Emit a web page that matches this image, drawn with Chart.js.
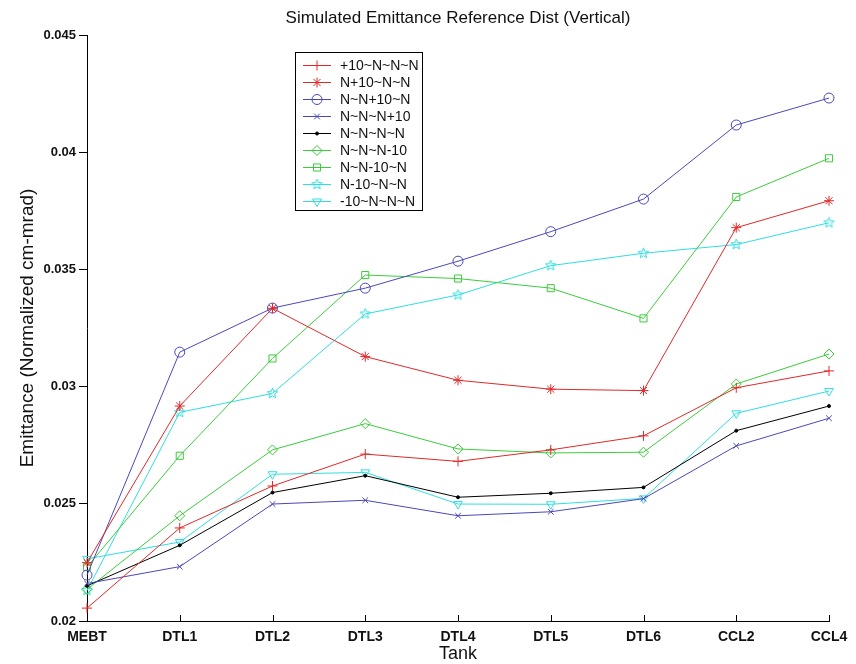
<!DOCTYPE html>
<html>
<head>
<meta charset="utf-8">
<title>Simulated Emittance Reference Dist (Vertical)</title>
<script src="https://cdn.jsdelivr.net/npm/chart.js@4.4.1/dist/chart.umd.min.js"></script>
<style>
    html, body { margin: 0; padding: 0; background: #fff; }
    #emitChart { display: block; }
</style>
</head>
<body>
<canvas id="emitChart" width="856" height="664"></canvas>
<script>
// Tanks along the linac
const tanks = ['MEBT', 'DTL1', 'DTL2', 'DTL3', 'DTL4', 'DTL5', 'DTL6', 'CCL2', 'CCL4'];

// Vertical emittance per error case (normalized cm-mrad)
const plus10NNN   = [0.02055, 0.02397, 0.02576, 0.02712, 0.02681, 0.02730, 0.02790, 0.02995, 0.03067];
const nPlus10NN   = [0.02249, 0.02917, 0.03334, 0.03128, 0.03027, 0.02989, 0.02983, 0.03678, 0.03793];
const nnPlus10N   = [0.02196, 0.03147, 0.03335, 0.03420, 0.03535, 0.03661, 0.03800, 0.04116, 0.04231];
const nnnPlus10   = [0.02160, 0.02232, 0.02499, 0.02515, 0.02449, 0.02466, 0.02522, 0.02747, 0.02865];
const nominal     = [0.02150, 0.02323, 0.02548, 0.02620, 0.02528, 0.02545, 0.02570, 0.02812, 0.02917];
const nnnMinus10  = [0.02135, 0.02449, 0.02730, 0.02842, 0.02734, 0.02717, 0.02720, 0.03011, 0.03139];
const nnMinus10N  = [0.02230, 0.02705, 0.03120, 0.03476, 0.03461, 0.03420, 0.03291, 0.03809, 0.03974];
const nMinus10NN  = [0.02130, 0.02890, 0.02971, 0.03310, 0.03391, 0.03516, 0.03569, 0.03606, 0.03699];
const minus10NNN  = [0.02265, 0.02337, 0.02626, 0.02634, 0.02499, 0.02498, 0.02523, 0.02886, 0.02981];

const yTicks = [0.02, 0.025, 0.03, 0.035, 0.04, 0.045];

const FONT = "Arial, 'Liberation Sans', sans-serif";
const RED = '#e02828', BLUE = '#4a48b8', GREEN = '#3ccc3c', CYAN = '#30dde0', BLACK = '#000';

// Chart.js has no five-point star, so build one as an image
function makePentagram(color, r) {
    const c = document.createElement('canvas');
    const size = Math.ceil(r * 2 + 2);
    c.width = size; c.height = size;
    const g = c.getContext('2d');
    g.strokeStyle = color;
    g.lineWidth = 1;
    g.beginPath();
    for (let i = 0; i < 10; i++) {
        const rad = i % 2 === 0 ? r : r * 0.42;
        const a = -Math.PI / 2 + i * Math.PI / 5;
        const px = size / 2 + rad * Math.cos(a), py = size / 2 + rad * Math.sin(a);
        i === 0 ? g.moveTo(px, py) : g.lineTo(px, py);
    }
    g.closePath();
    g.stroke();
    return c;
}

const series = (label, data, color, pointStyle, extra = {}) => ({
    label,
    data,
    borderColor: color,
    backgroundColor: 'rgba(0,0,0,0)',
    borderWidth: 1,
    pointStyle,
    pointRadius: 5,
    pointBorderWidth: 1,
    pointBorderColor: color,
    pointBackgroundColor: 'rgba(0,0,0,0)',
    tension: 0,
    clip: false,
    ...extra
});

const datasets = [
    series('+10~N~N~N', plus10NNN, RED, 'cross'),
    series('N+10~N~N', nPlus10NN, RED, 'star'),
    series('N~N+10~N', nnPlus10N, BLUE, 'circle'),
    series('N~N~N+10', nnnPlus10, BLUE, 'crossRot', { pointRadius: 4 }),
    series('N~N~N~N', nominal, BLACK, 'circle', { pointRadius: 1.5, pointBackgroundColor: BLACK }),
    series('N~N~N-10', nnnMinus10, GREEN, 'rectRot'),
    series('N~N-10~N', nnMinus10N, GREEN, 'rect'),
    series('N-10~N~N', nMinus10NN, CYAN, makePentagram(CYAN, 5.5)),
    series('-10~N~N~N', minus10NNN, CYAN, 'triangle', { pointRotation: 180 })
];

// Titles, inward x ticks and the boxed legend
const decorations = {
    id: 'decorations',
    afterDraw(chart) {
        const { ctx, chartArea, scales } = chart;
        ctx.save();

        // x ticks point into the plot
        ctx.strokeStyle = '#000';
        ctx.lineWidth = 1;
        ctx.beginPath();
        scales.x.ticks.forEach((t, i) => {
            const x = Math.round(scales.x.getPixelForTick(i)) + 0.5;
            ctx.moveTo(x, chartArea.bottom);
            ctx.lineTo(x, chartArea.bottom - 6);
        });
        ctx.stroke();

        ctx.fillStyle = '#111';
        ctx.textAlign = 'center';
        ctx.textBaseline = 'middle';
        const midX = (chartArea.left + chartArea.right) / 2;
        ctx.font = `17px ${FONT}`;
        ctx.fillText('Simulated Emittance Reference Dist (Vertical)', midX, 18);
        ctx.font = `18px ${FONT}`;
        ctx.fillText('Tank', midX, 654);
        ctx.save();
        ctx.translate(28, 328);
        ctx.rotate(-Math.PI / 2);
        ctx.font = `19px ${FONT}`;
        ctx.fillText('Emittance (Normalized cm-mrad)', 0, 0);
        ctx.restore();

        // legend
        const lx = 295, ly = 52, lw = 127, lh = 158, rowH = 17;
        ctx.fillStyle = '#fff';
        ctx.fillRect(lx, ly, lw, lh);
        ctx.strokeStyle = '#000';
        ctx.strokeRect(lx + 0.5, ly + 0.5, lw, lh);
        ctx.font = `14px ${FONT}`;
        ctx.textAlign = 'left';
        chart.data.datasets.forEach((ds, i) => {
            const y = ly + 13 + i * rowH;
            ctx.strokeStyle = ds.borderColor;
            ctx.lineWidth = 1;
            ctx.beginPath();
            ctx.moveTo(lx + 8, y + 0.5);
            ctx.lineTo(lx + 36, y + 0.5);
            ctx.stroke();
            ctx.fillStyle = ds.pointBackgroundColor;
            Chart.helpers.drawPoint(ctx, {
                pointStyle: ds.pointStyle,
                rotation: ds.pointRotation || 0,
                radius: ds.pointRadius,
                borderWidth: 1
            }, lx + 22, y + 0.5);
            ctx.fillStyle = '#111';
            ctx.fillText(ds.label, lx + 45, y + 1);
        });
        ctx.restore();
    }
};

new Chart(document.getElementById('emitChart'), {
    type: 'line',
    data: { labels: tanks, datasets },
    options: {
        responsive: false,
        devicePixelRatio: 1,
        animation: false,
        layout: { padding: { top: 35, right: 27, left: 0, bottom: 0 } },
        plugins: {
            legend: { display: false },
            tooltip: { enabled: false }
        },
        scales: {
            x: {
                offset: false,
                grid: { display: false },
                border: { color: '#000', width: 1 },
                ticks: {
                    color: '#111',
                    padding: 0,
                    maxRotation: 0,
                    font: { family: FONT, size: 14, weight: 'bold' }
                },
                afterFit: (scale) => { scale.height = 43; }
            },
            y: {
                min: 0.02,
                max: 0.045,
                grid: { drawOnChartArea: false, color: '#000', tickLength: 8 },
                border: { color: '#000', width: 1 },
                ticks: {
                    color: '#111',
                    padding: 3,
                    font: { family: FONT, size: 13, weight: 'bold' },
                    callback: (v) => String(+v.toFixed(3))
                },
                afterBuildTicks: (scale) => { scale.ticks = yTicks.map(v => ({ value: v })); },
                afterFit: (scale) => { scale.width = 87; }
            }
        }
    },
    plugins: [decorations]
});
</script>
</body>
</html>
